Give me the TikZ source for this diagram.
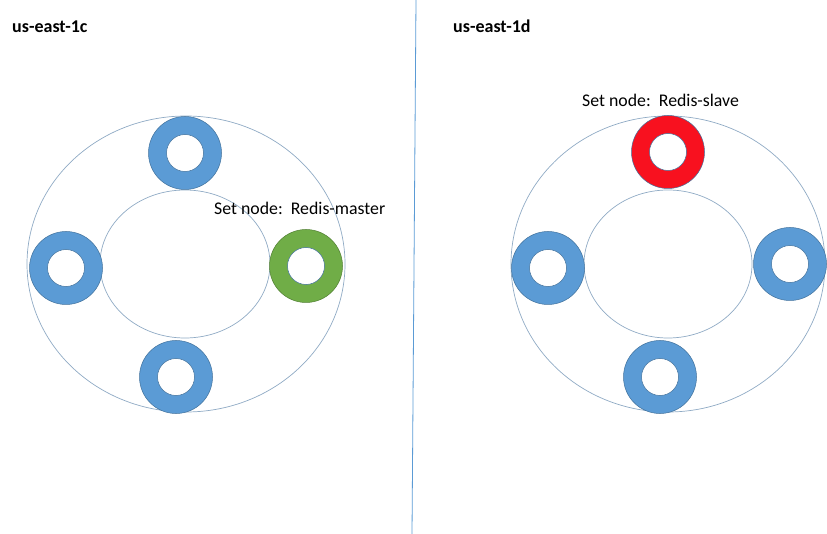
\documentclass[tikz,border=0pt]{standalone}
\usepackage{fontspec}
\setmainfont{Carlito}
\begin{document}
\begin{tikzpicture}[x=1pt,y=-1pt,
  zone/.style={draw=ringline, line width=0.7pt},
  ring/.style={circle, inner sep=0pt, minimum size=73pt, line width=0.5pt},
  bluering/.style={ring, fill=ringblue, draw=ringblueb},
  greenring/.style={ring, fill=ringgreen, draw=ringgreenb},
  redring/.style={ring, fill=ringred, draw=ringblueb},
  hole/.style={circle, inner sep=0pt, minimum size=37pt, fill=white, draw=ringblueb, line width=0.5pt},
  title/.style={font=\fontsize{18}{21}\selectfont\bfseries, anchor=base west, inner sep=0pt},
  lbl/.style={font=\fontsize{17.8}{21}\selectfont, anchor=base west, inner sep=0pt}]
\definecolor{ringline}{HTML}{8FAAC4}
\definecolor{ringblue}{HTML}{5B9BD5}
\definecolor{ringblueb}{HTML}{41719C}
\definecolor{ringgreen}{HTML}{70AD47}
\definecolor{ringgreenb}{HTML}{507E32}
\definecolor{ringred}{HTML}{F8111F}
\definecolor{divider}{HTML}{5B9BD5}
\useasboundingbox (0,0) rectangle (827,534);
% divider
\coordinate (dtop) at (416,0);
\coordinate (dbot) at (412,534);
\draw[divider, line width=0.8pt] (dtop) -- (dbot);
% titles
\node[title] (t1) at (12,33) {us-east-1c};
\node[title] (t2) at (453,33) {us-east-1d};
% left zone
\draw[zone] (186,264) ellipse [x radius=159, y radius=148];
\draw[zone] (185,264) ellipse [x radius=85, y radius=74];
\node[bluering] (l1) at (185,153) {};
\node[hole] at (l1) {};
\node[bluering] (l2) at (66,268) {};
\node[hole] at (l2) {};
\node[greenring] (l3) at (306,266) {};
\node[hole] at (l3) {};
\node[bluering] (l4) at (176,377) {};
\node[hole] at (l4) {};
\node[lbl] (m) at (214,215) {Set node:\ \ Redis-master};
% right zone
\draw[zone] (668,264) ellipse [x radius=157, y radius=148];
\draw[zone] (668,264) ellipse [x radius=84, y radius=74];
\node[redring] (r1) at (668,152) {};
\node[hole] at (r1) {};
\node[bluering] (r2) at (548,268) {};
\node[hole] at (r2) {};
\node[bluering] (r3) at (790,264) {};
\node[hole] at (r3) {};
\node[bluering] (r4) at (660,377) {};
\node[hole] at (r4) {};
\node[lbl] (s) at (582,107) {Set node:\ \ Redis-slave};
\end{tikzpicture}
\end{document}
